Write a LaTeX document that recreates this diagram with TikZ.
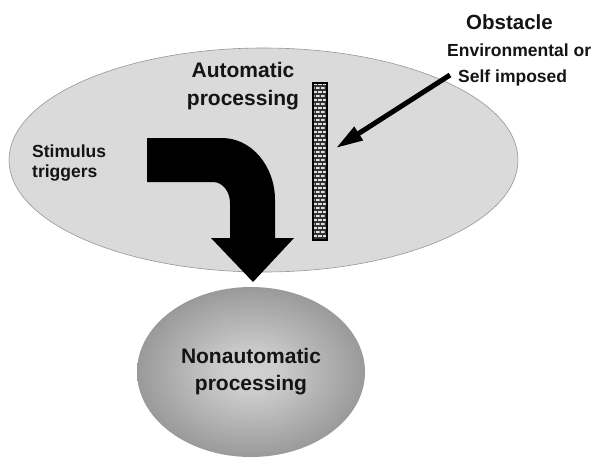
\documentclass[tikz,border=0pt]{standalone}
\usepackage{fontspec}
\setmainfont{Liberation Sans}
\usetikzlibrary{shapes.geometric,arrows.meta,patterns}
\definecolor{ovalgray}{RGB}{218,218,218}
\definecolor{rimgray}{RGB}{150,150,150}
\definecolor{inkgray}{RGB}{20,20,20}
\pgfdeclareradialshading{nonauto}{\pgfpoint{0bp}{0bp}}{%
  color(0bp)=(white!82!black); color(6bp)=(white!80!black);
  color(35bp)=(white!50!black); color(50bp)=(white!45!black)}
% small bricks for the wall
\pgfdeclarepatternformonly{wallbricks}{\pgfqpoint{-0.5pt}{-0.5pt}}{\pgfqpoint{5.5pt}{8.5pt}}{\pgfqpoint{5pt}{8pt}}{%
  \pgfsetlinewidth{1.1pt}
  \pgfpathmoveto{\pgfqpoint{0pt}{0pt}}\pgfpathlineto{\pgfqpoint{5pt}{0pt}}
  \pgfpathmoveto{\pgfqpoint{0pt}{4pt}}\pgfpathlineto{\pgfqpoint{5pt}{4pt}}
  \pgfpathmoveto{\pgfqpoint{0pt}{0pt}}\pgfpathlineto{\pgfqpoint{0pt}{4pt}}
  \pgfpathmoveto{\pgfqpoint{2.5pt}{4pt}}\pgfpathlineto{\pgfqpoint{2.5pt}{8pt}}
  \pgfusepath{stroke}}
\tikzset{
  label/.style={font=\bfseries, text=inkgray, inner sep=0pt},
  bigtext/.style={label, font=\fontsize{21}{28}\selectfont\bfseries, align=center},
  smalltext/.style={label, font=\fontsize{17.5}{20}\selectfont\bfseries}
}
\begin{document}
\begin{tikzpicture}[x=1pt,y=-1pt]
  \useasboundingbox (0,0) rectangle (593,458);
  % the two ovals
  \node[ellipse, fill=ovalgray, draw=rimgray, line width=0.6pt, inner sep=0pt,
        minimum width=509pt, minimum height=224pt] (auto) at (263.5,160) {};
  \node[ellipse, shading=nonauto, inner sep=0pt, minimum width=228pt,
        minimum height=170pt, bigtext, font=\fontsize{21}{27}\selectfont\bfseries]
        (nonauto) at (251,372) {Nonautomatic\\processing};
  % labels
  \node[bigtext] (autotext) at (243,86) {Automatic\\processing};
  \node[smalltext, align=left, anchor=west] (stim) at (32,163) {Stimulus\\triggers};
  \node[label, font=\fontsize{20.5}{24}\selectfont\bfseries] (obst) at (509.5,22) {Obstacle};
  \node[smalltext, anchor=west] (envir) at (447,50) {Environmental or};
  \node[smalltext, anchor=west] (selfimp) at (458,78) {Self imposed};
  % the wall
  \node[draw=black, line width=1.5pt, preaction={fill=white!88!black},
        pattern=wallbricks, pattern color=black!80, inner sep=0pt,
        minimum width=14pt, minimum height=157pt] (wall) at (320,161.5) {};
  \coordinate (hit) at (336,148);
  \draw[line width=5pt, -{Triangle[length=27pt,width=15pt]}]
      ([xshift=-8pt,yshift=3pt]selfimp.west) -- (hit);
  % bent arrow from the triggers down to the lower oval
  \fill[black] (147,138) -- (222,138)
      arc[start angle=-90, end angle=0, x radius=53, y radius=62]
      -- (275,238) -- (294,238) -- (253,282) -- (211,238) -- (230,238) -- (230,203)
      arc[start angle=0, end angle=-90, x radius=17, y radius=21]
      -- (147,182) -- cycle;
\end{tikzpicture}
\end{document}
